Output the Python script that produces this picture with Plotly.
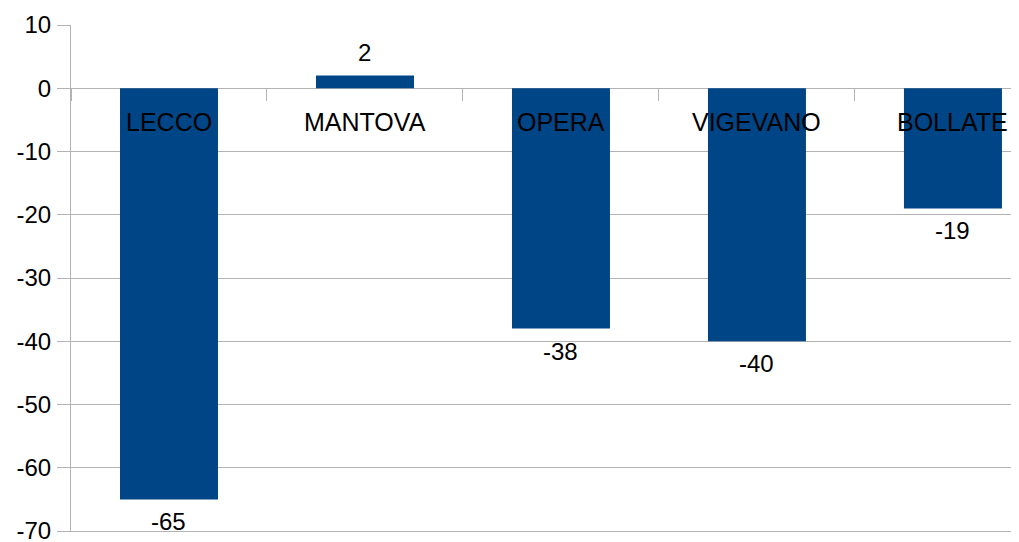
import plotly.graph_objects as go

# --- données ---
categories = ['LECCO', 'MANTOVA', 'OPERA', 'VIGEVANO', 'BOLLATE']
values = [-65, 2, -38, -40, -19]
y_ticks = [10, 0, -10, -20, -30, -40, -50, -60, -70]

BAR_COLOR = '#004586'
GRID = '#b3b3b3'
FONT = 'Liberation Sans, Arial, sans-serif'
X_RANGE = [-0.5, 4.337]

fig = go.Figure()

fig.add_trace(go.Bar(
    x=list(range(len(categories))), y=values,
    marker=dict(color=BAR_COLOR, line=dict(width=0)),
    width=0.5, showlegend=False,
))
# trace vide pour que l'axe x2 (traits sur le zéro) soit dessiné
fig.add_trace(go.Scatter(x=[], y=[], xaxis='x2', yaxis='y',
                         mode='markers', showlegend=False, hoverinfo='skip'))

for i, (name, v) in enumerate(zip(categories, values)):
    # noms des villes juste sous la ligne du zéro
    fig.add_annotation(x=i, y=-5.3, text=name, showarrow=False,
                       xanchor='center', yanchor='middle',
                       font=dict(family=FONT, size=25, color='black'))
    # étiquette de valeur au bout de la barre
    fig.add_annotation(x=i, y=v, text=str(v), showarrow=False,
                       xanchor='center',
                       yanchor='top' if v < 0 else 'bottom',
                       yshift=-7 if v < 0 else 8,
                       font=dict(family=FONT, size=24, color='black'))

# la page html ajoute une marge de 8px autour du graphique
fig.update_layout(
    width=1011, height=534,
    margin=dict(l=63, r=0, t=17, b=11, autoexpand=False),
    paper_bgcolor='white', plot_bgcolor='white',
    font=dict(family=FONT, size=24, color='black'),
    bargap=0.5,
    # ligne du bas du cadre
    xaxis=dict(
        range=X_RANGE, showticklabels=False, ticks='',
        showgrid=False, zeroline=False,
        showline=True, linecolor=GRID, linewidth=1,
        automargin=False,
    ),
    # axe des catégories posé sur le zéro (seulement les petits traits)
    xaxis2=dict(
        overlaying='x', anchor='free', position=0.875,
        range=X_RANGE,
        tickvals=[i + 0.5 for i in range(-1, len(categories))],
        showticklabels=False,
        ticks='outside', ticklen=12, tickcolor=GRID, tickwidth=1,
        showgrid=False, zeroline=False, showline=False,
        automargin=False,
    ),
)

fig.update_yaxes(
    range=[-70, 10], tickvals=y_ticks,
    ticktext=[str(v) for v in y_ticks],
    ticks='outside', ticklen=13, tickcolor=GRID,
    showgrid=True, gridcolor=GRID, gridwidth=1,
    zeroline=True, zerolinecolor=GRID, zerolinewidth=1,
    showline=True, linecolor=GRID, linewidth=1,
    tickfont=dict(family=FONT, size=24, color='black'),
    ticklabelstandoff=1, ticklabeloverflow='allow', automargin=False,
)

fig.write_html("out.html")
